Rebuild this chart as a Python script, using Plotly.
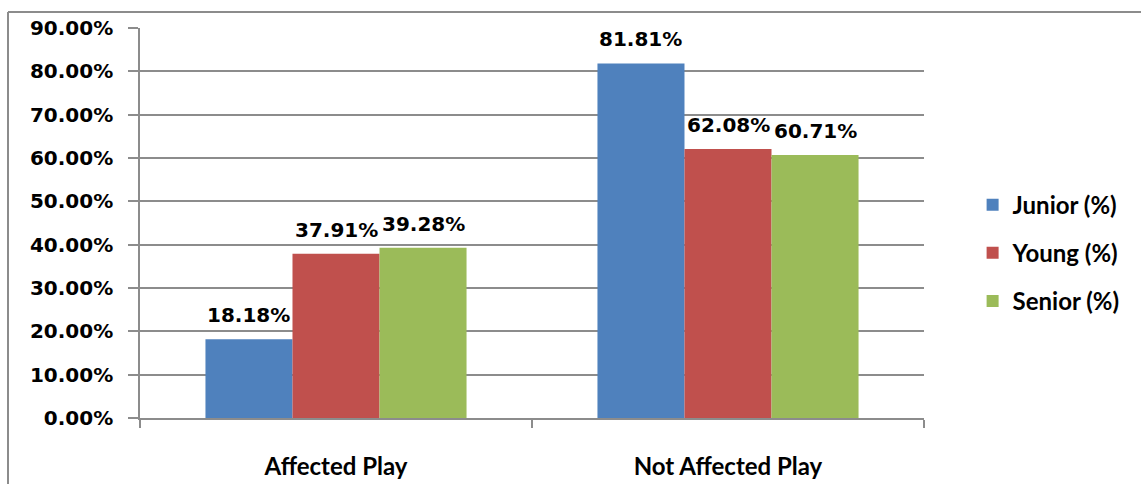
import plotly.graph_objects as go

categories = ["Affected Play", "Not Affected Play"]
series_names = ["Junior (%)", "Young (%)", "Senior (%)"]
junior = [0.1818, 0.8181]
young = [0.3791, 0.6208]
senior = [0.3928, 0.6071]
colors = ["#4F81BD", "#C0504D", "#9BBB59"]
y_ticks = [0.0, 0.1, 0.2, 0.3, 0.4, 0.5, 0.6, 0.7, 0.8, 0.9]

NUM_FONT = dict(family="DejaVu Sans", size=20, color="#000000", weight="bold")
TXT_FONT = dict(family="Lato", size=24, color="#000000", weight="bold")
GRID = "#8c8c8c"
BAR_W = 0.222  # width of one bar in category units

fig = go.Figure()
for i, (name, vals) in enumerate(zip(series_names, [junior, young, senior])):
    fig.add_trace(go.Bar(
        x=categories, y=vals, name=name,
        marker=dict(color=colors[i], line=dict(width=0)),
        legendgroup=name,
    ))
    # value labels above each bar
    for j, v in enumerate(vals):
        fig.add_annotation(
            x=j + (i - 1) * BAR_W, y=v, text=f"{v:.2%}",
            showarrow=False, yanchor="bottom", yshift=10,
            font=NUM_FONT,
        )

fig.update_layout(
    width=1141, height=484,
    margin=dict(l=140, r=217, t=28, b=66, autoexpand=False),
    paper_bgcolor="white", plot_bgcolor="white",
    barmode="group", bargap=0.334, bargroupgap=0,
    font=TXT_FONT,
    showlegend=True,
    legend=dict(
        x=1.062, y=0.423, xanchor="left", yanchor="middle",
        font=TXT_FONT,
        tracegroupgap=14, itemsizing="constant",
        bgcolor="rgba(0,0,0,0)",
    ),
)

fig.update_yaxes(
    range=[0, 0.9], tickvals=y_ticks, tickformat=".2%",
    showgrid=True, gridcolor=GRID, gridwidth=1.5,
    showline=True, linecolor=GRID, linewidth=1.5,
    ticks="outside", ticklen=10, tickcolor=GRID, tickwidth=1.5,
    tickfont=NUM_FONT,
    zeroline=False, ticklabelstandoff=11, automargin=False,
)
fig.update_xaxes(
    showline=True, linecolor=GRID, linewidth=1.5,
    ticks="outside", tickson="boundaries", ticklen=8, tickcolor=GRID, tickwidth=1.5,
    tickfont=TXT_FONT,
    ticklabelstandoff=26, showgrid=False, automargin=False,
)

# outer chart frame (left and top edges)
fig.add_shape(type="line", xref="paper", yref="paper",
              x0=(8 - 140) / 784, x1=(8 - 140) / 784, y0=-0.3, y1=(418 - 12) / 390,
              line=dict(color=GRID, width=2))
fig.add_shape(type="line", xref="paper", yref="paper",
              x0=(8 - 140) / 784, x1=1.4, y0=(418 - 12) / 390, y1=(418 - 12) / 390,
              line=dict(color=GRID, width=2))

fig.write_html("out.html")
